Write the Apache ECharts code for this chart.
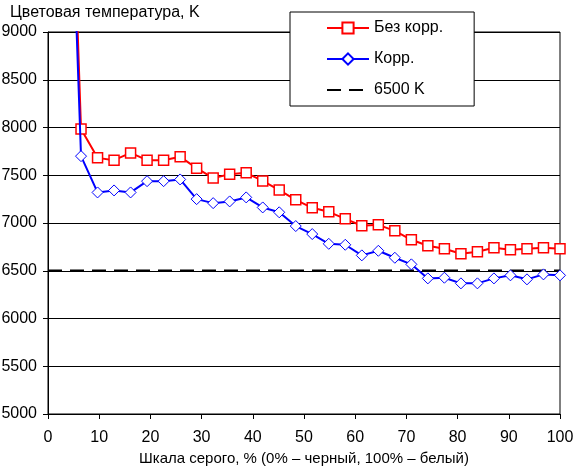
<!DOCTYPE html>
<html lang="ru">
<head>
    <meta charset="UTF-8">
    <title>Цветовая температура</title>
    <script src="https://cdn.jsdelivr.net/npm/echarts@6/dist/echarts.min.js"></script>
    <style>
        html, body { margin: 0; padding: 0; background: #fff; }
        #main { width: 573px; height: 467px; }
    </style>
</head>
<body>
<div id="main"></div>
<script type="text/javascript">
    // уровни серого, % (шаг 1/31)
    var grayLevels = [3.23, 6.45, 9.68, 12.9, 16.13, 19.35, 22.58, 25.81, 29.03, 32.26,
        35.48, 38.71, 41.94, 45.16, 48.39, 51.61, 54.84, 58.06, 61.29, 64.52,
        67.74, 70.97, 74.19, 77.42, 80.65, 83.87, 87.1, 90.32, 93.55, 96.77, 100];

    // Без корр.
    var noCorr = [13000, 7985, 7682, 7658, 7734, 7658, 7658, 7693, 7574, 7470,
        7511, 7525, 7441, 7345, 7243, 7159, 7117, 7044, 6971, 6981,
        6918, 6824, 6762, 6730, 6678, 6699, 6741, 6720, 6730, 6741, 6730];

    // Корр.
    var withCorr = [12600, 7700, 7320, 7341, 7320, 7438, 7438, 7456, 7250, 7208,
        7226, 7268, 7163, 7112, 6968, 6884, 6782, 6772, 6661, 6709,
        6636, 6567, 6420, 6427, 6368, 6368, 6420, 6452, 6410, 6462, 6452];

    // опорная линия 6500 K
    var refX = [0, 100];
    var refValue = [6500, 6500];

    function pairs(xs, ys) {
        var out = [];
        for (var i = 0; i < xs.length; i++) {
            out.push([xs[i], ys[i]]);
        }
        return out;
    }

    var myChart = echarts.init(document.getElementById('main'));
    var font = 'Liberation Sans, Arial, sans-serif';

    var option = {
        animation: false,
        textStyle: { fontFamily: font, color: '#000' },
        title: {
            text: 'Цветовая температура, K',
            left: 5,
            top: 0,
            textStyle: { fontSize: 16, fontWeight: 'normal', color: '#000', fontFamily: font }
        },
        legend: {
            orient: 'vertical',
            left: 290,
            top: 12,
            padding: [8, 31, 8, 36],
            itemWidth: 42,
            itemHeight: 14,
            itemGap: 15,
            backgroundColor: '#fff',
            borderColor: '#000',
            borderWidth: 1,
            borderRadius: 0,
            textStyle: { fontSize: 16, color: '#000', fontFamily: font },
            data: ['Без корр.', 'Корр.', '6500 K']
        },
        grid: {
            left: 48,
            right: 13,
            top: 32,
            bottom: 53,
            containLabel: false,
            outerBoundsMode: 'none',
            show: true,
            borderColor: '#000',
            borderWidth: 1,
            backgroundColor: 'transparent'
        },
        xAxis: {
            type: 'value',
            min: 0,
            max: 100,
            interval: 10,
            name: 'Шкала серого, % (0% – черный, 100% – белый)',
            nameLocation: 'middle',
            nameGap: 36,
            nameTextStyle: { fontSize: 15, color: '#000', fontFamily: font },
            axisLine: { lineStyle: { color: '#000', width: 1 } },
            axisTick: { inside: false, length: 5, lineStyle: { color: '#000' } },
            axisLabel: { fontSize: 16, color: '#000', margin: 16, fontFamily: font },
            splitLine: { show: false }
        },
        yAxis: {
            type: 'value',
            min: 5000,
            max: 9000,
            interval: 500,
            axisLine: { show: true, lineStyle: { color: '#000', width: 1 } },
            axisTick: { show: true, inside: false, length: 5, lineStyle: { color: '#000' } },
            axisLabel: {
                fontSize: 16, color: '#000', margin: 11, fontFamily: font,
                formatter: function (v) { return String(v); }
            },
            splitLine: { show: true, lineStyle: { color: '#000', width: 1 } }
        },
        series: [
            {
                name: '6500 K',
                type: 'line',
                data: pairs(refX, refValue),
                symbol: 'none',
                color: '#000',
                itemStyle: { opacity: 0 },
                lineStyle: { color: '#000', width: 2.5, type: [14, 8] },
                z: 1
            },
            {
                name: 'Без корр.',
                type: 'line',
                data: pairs(grayLevels, noCorr),
                symbol: 'rect',
                symbolSize: 10,
                color: '#ff0000',
                lineStyle: { color: '#ff0000', width: 2 },
                itemStyle: { color: '#fff', borderColor: '#ff0000', borderWidth: 1.5 },
                clip: true,
                z: 2
            },
            {
                name: 'Корр.',
                type: 'line',
                data: pairs(grayLevels, withCorr),
                symbol: 'diamond',
                symbolSize: 11,
                color: '#0000ff',
                lineStyle: { color: '#0000ff', width: 2 },
                itemStyle: { color: '#fff', borderColor: '#0000ff', borderWidth: 1 },
                clip: true,
                z: 3
            }
        ]
    };

    myChart.setOption(option);
</script>
</body>
</html>
